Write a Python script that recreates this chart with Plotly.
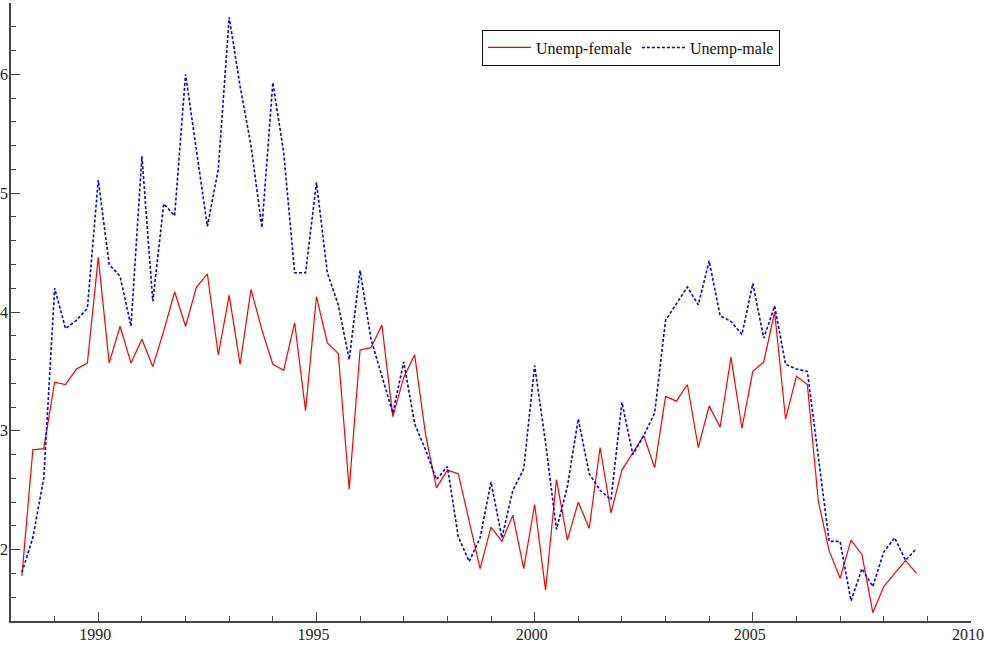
import plotly.graph_objects as go

# Quarterly observations, 1988 Q2 .. 2008 Q4 (decimal years)
start_year = 1988.25
n_obs = 83
years = [start_year + 0.25 * i for i in range(n_obs)]

unemp_female = [
    1.78, 2.84, 2.85,
    3.41, 3.39, 3.52, 3.57,
    4.46, 3.57, 3.88, 3.57,
    3.77, 3.54, 3.84, 4.17,
    3.88, 4.21, 4.32, 3.64,
    4.14, 3.56, 4.19, 3.85,
    3.56, 3.51, 3.91, 3.17,
    4.13, 3.74, 3.65, 2.51,
    3.68, 3.70, 3.89, 3.12,
    3.45, 3.64, 2.97, 2.52,
    2.67, 2.64, 2.25, 1.84,
    2.19, 2.07, 2.29, 1.84,
    2.38, 1.66, 2.59, 2.08,
    2.40, 2.18, 2.86, 2.31,
    2.67, 2.82, 2.96, 2.69,
    3.29, 3.25, 3.39, 2.86,
    3.21, 3.03, 3.62, 3.02,
    3.50, 3.58, 4.00, 3.10,
    3.46, 3.39, 2.41, 1.99,
    1.76, 2.08, 1.96, 1.47,
    1.69, 1.80, 1.91, 1.80,
]

unemp_male = [
    1.81, 2.10, 2.60,
    4.20, 3.86, 3.93, 4.03,
    5.11, 4.40, 4.30, 3.88,
    5.31, 4.09, 4.91, 4.81,
    6.00, 5.36, 4.72, 5.20,
    6.48, 5.90, 5.40, 4.71,
    5.93, 5.34, 4.33, 4.33,
    5.09, 4.33, 4.06, 3.60,
    4.35, 3.77, 3.46, 3.15,
    3.58, 3.06, 2.84, 2.59,
    2.70, 2.11, 1.90, 2.10,
    2.57, 2.10, 2.50, 2.68,
    3.55, 2.90, 2.17, 2.53,
    3.10, 2.64, 2.50, 2.42,
    3.24, 2.80, 2.96, 3.15,
    3.93, 4.07, 4.21, 4.06,
    4.43, 3.97, 3.92, 3.81,
    4.24, 3.78, 4.05, 3.56,
    3.52, 3.50, 2.80, 2.07,
    2.07, 1.57, 1.84, 1.69,
    1.98, 2.10, 1.91, 2.01,
]

x_tickvals = [1990, 1995, 2000, 2005, 2010]
y_tickvals = [2, 3, 4, 5, 6]

font_family = '"Liberation Serif", "Times New Roman", Times, serif'
axis_color = "#444444"

fig = go.Figure()
fig.add_trace(go.Scatter(
    x=years, y=unemp_female, mode="lines", name="Unemp-female",
    line=dict(color="#ff0000", width=1.2),
))
fig.add_trace(go.Scatter(
    x=years, y=unemp_male, mode="lines", name="Unemp-male",
    line=dict(color="#0000ff", width=1.6, dash="3px,2px"),
))

fig.update_layout(
    width=985, height=647,
    margin=dict(l=11, r=14, t=3, b=26, autoexpand=False),
    paper_bgcolor="white", plot_bgcolor="white",
    font=dict(family=font_family, size=16, color="#222222"),
    showlegend=True,
    legend=dict(
        orientation="h",
        x=0.4906, y=0.957, xanchor="left", yanchor="top",
        bordercolor="#111111", borderwidth=1, bgcolor="white",
        font=dict(family=font_family, size=16, color="#111111"),
        tracegroupgap=0, itemwidth=43,
    ),
    xaxis=dict(
        range=[1988, 2010], showgrid=False, zeroline=False, automargin=False,
        showline=True, linecolor=axis_color, linewidth=1.5,
        tickmode="array", tickvals=x_tickvals,
        ticks="inside", ticklen=9, tickwidth=1.2, tickcolor=axis_color,
        ticklabeloverflow="allow", ticklabelstandoff=-2, ticklabelshift=-3,
        minor=dict(dtick=1, tick0=1988, ticks="inside", ticklen=5,
                   tickwidth=1, tickcolor=axis_color, showgrid=False),
        tickfont=dict(family=font_family, size=16, color="#222222"),
    ),
    yaxis=dict(
        range=[1.4, 6.6], showgrid=False, zeroline=False, automargin=False,
        showline=True, linecolor=axis_color, linewidth=1.5,
        tickmode="array", tickvals=y_tickvals,
        ticks="inside", ticklen=9, tickwidth=1.2, tickcolor=axis_color,
        ticklabeloverflow="allow", ticklabelstandoff=-2,
        minor=dict(dtick=0.2, tick0=1.4, ticks="inside", ticklen=5,
                   tickwidth=1, tickcolor=axis_color, showgrid=False),
        tickfont=dict(family=font_family, size=16, color="#222222"),
    ),
)

fig.write_html(
    "out.html",
    config={"displayModeBar": False},
    post_script="document.body.style.margin='0';document.body.style.padding='0';",
)
